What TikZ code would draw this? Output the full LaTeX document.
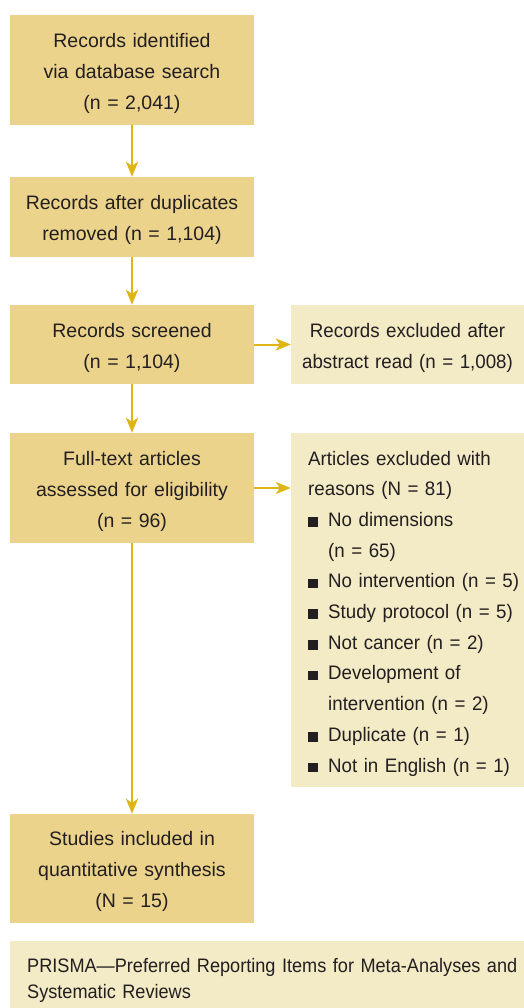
\documentclass[tikz,border=0pt]{standalone}
\usepackage{fontspec}
\setmainfont{Liberation Sans}
\newfontfamily\listfont[FakeStretch=0.96]{Liberation Sans}
\newfontfamily\narrowfont[FakeStretch=0.93]{Liberation Sans}
\usetikzlibrary{arrows.meta}
\definecolor{stagefill}{HTML}{ECD38C}
\definecolor{sidefill}{HTML}{F3EAC6}
\definecolor{flowline}{HTML}{DFB514}
\definecolor{ink}{HTML}{231F20}
\newcommand{\sqitem}{\makebox[20pt][l]{\rule[-0.3pt]{9.5pt}{9.5pt}}}
\newcommand{\sqgap}{\hspace*{20pt}}

\begin{document}
\begin{tikzpicture}[x=1pt,y=-1pt,font=\fontsize{19.5}{31}\selectfont,text=ink]
        \useasboundingbox (0,0) rectangle (524,1008);
        \begin{scope}[every node/.style={fill=stagefill,text width=224pt,inner xsep=10pt,inner ysep=0pt,align=center,minimum height=80pt,execute at begin node=\rule{0pt}{21pt}}]
        \node (rec) at (132,70) [minimum height=110pt] {Records identified\\ via database search\\ (n = 2,041)};
        \node (dup) at (132,217) {Records after duplicates\\ removed (n = 1,104)};
        \node (scr) at (132,344.5) [minimum height=79pt] {Records screened\\ (n = 1,104)};
        \node (full) at (132,488) [minimum height=110pt] {Full-text articles\\ assessed for eligibility\\ (n = 96)};
        \node (incl) at (132,868.5) [minimum height=109pt] {Studies included in\\ quantitative synthesis\\ (N = 15)};
        \end{scope}
        \begin{scope}[every node/.style={fill=sidefill,inner sep=0pt}]
        \node (exa) at (407.5,344.5) [minimum width=233pt,minimum height=79pt,text width=223pt,align=center,font=\listfont\fontsize{19.5}{31}\selectfont,execute at begin node=\rule{0pt}{21pt}] {Records excluded after\\ abstract read (n = 1,008)};
        \node (exr) at (407.5,610) [minimum width=233pt,minimum height=354pt] {};
        \node (foot) at (10,941) [anchor=north west,text width=490pt,inner xsep=17pt,align=left,text height=31.7pt,text depth=35.3pt,font=\narrowfont\fontsize{19.5}{25.7}\selectfont] {\mbox{PRISMA—Preferred Reporting Items for Meta-Analyses and}\\ Systematic Reviews};
        \end{scope}
        \node (why) at (308,465) [anchor=base west,text width=214pt,inner sep=0pt,align=left,font=\listfont\fontsize{19.5}{30.7}\selectfont] {Articles excluded with\\ reasons (N = 81)\\
          \sqitem No dimensions\\ \sqgap(n = 65)\\
          \sqitem No intervention (n = 5)\\
          \sqitem Study protocol (n = 5)\\
          \sqitem Not cancer (n = 2)\\
          \sqitem Development of\\ \sqgap intervention (n = 2)\\
          \sqitem Duplicate (n = 1)\\
          \sqitem Not in English (n = 1)};
        \begin{scope}[every edge/.style={draw=flowline,line width=2pt,-{Stealth[length=15pt,width=12pt,inset=4pt]}}]
        \path (rec) edge (dup);
        \path (dup) edge (scr);
        \path (scr) edge (full);
        \path (full) edge (incl);
        \path (scr) edge (exa);
        \path (full) edge (full -| exr.west);
        \end{scope}
\end{tikzpicture}
\end{document}
